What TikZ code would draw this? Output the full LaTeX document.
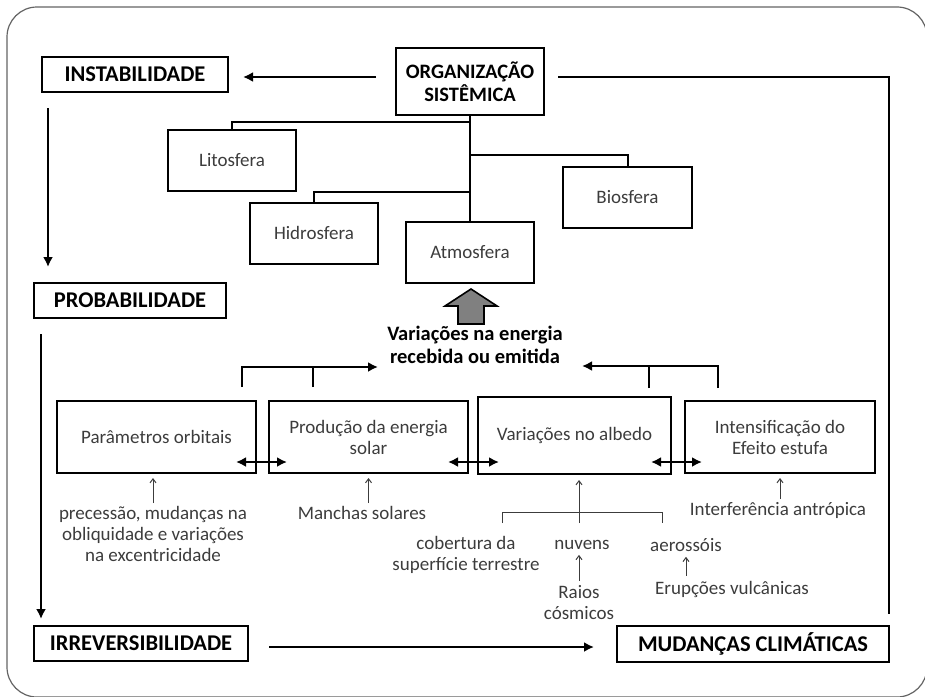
\documentclass[tikz,border=0pt]{standalone}
\usepackage{fontspec}
\setmainfont{Carlito}
\usetikzlibrary{arrows.meta,calc,positioning}
\definecolor{inkgray}{RGB}{60,60,60}
\definecolor{framegray}{RGB}{100,100,100}

\begin{document}
\begin{tikzpicture}[x=1pt, y=-1pt,
  sphere/.style={draw, line width=2pt, minimum width=128pt, minimum height=61pt, text=inkgray, font=\fontsize{19}{21}\selectfont},
  stage/.style={draw, line width=2pt, minimum height=35pt, font=\bfseries\fontsize{22.5}{24}\selectfont},
  factor/.style={draw, line width=2pt, minimum height=72pt, align=center, text=inkgray, font=\fontsize{19}{21}\selectfont},
  note/.style={align=center, inner sep=3pt, text=inkgray, font=\fontsize{19}{21}\selectfont},
  flow/.style={-{Latex[length=10pt,width=10pt]}, line width=2pt},
  both/.style={{Latex[length=10pt,width=10pt]}-{Latex[length=10pt,width=10pt]}, line width=2pt},
  link/.style={line width=2pt},
  cause/.style={-{Straight Barb[length=4pt,width=6pt]}, line width=1pt, inkgray},
  thinlink/.style={line width=1pt, inkgray}]

\useasboundingbox (0,0) rectangle (925,696);
\draw[framegray, line width=1.2pt, rounded corners=30pt] (7,7) rectangle (927,697);

% nivel de cima
\node[stage, minimum width=186pt] (inst) at (135,74.5) {INSTABILIDADE};
\node[stage, minimum width=148pt, minimum height=67pt, align=center, font=\bfseries\fontsize{20.5}{23}\selectfont] (org) at (470,81.5) {ORGANIZAÇÃO\\SISTÊMICA};

\node[sphere] (lito)  at (232,160.5) {Litosfera};
\node[sphere] (hidro) at (314,233)   {Hidrosfera};
\node[sphere] (atmo)  at (470,252.5) {Atmosfera};
\node[sphere, minimum width=129pt] (bio) at (627.5,197.5) {Biosfera};

\node[stage, minimum width=192pt] (prob)  at (130,300.5) {PROBABILIDADE};
\node[stage, minimum width=214pt] (irrev) at (141,643.5) {IRREVERSIBILIDADE};
\node[stage, minimum width=272pt, minimum height=36pt] (mud) at (753,644) {MUDANÇAS CLIMÁTICAS};

\node[align=center, font=\bfseries\fontsize{20.5}{23}\selectfont] (varia) at (475,345) {Variações na energia\\recebida ou emitida};

% fatores
\node[factor, minimum width=199pt] (param)  at (156.5,437) {Parâmetros orbitais};
\node[factor, minimum width=199pt] (prod)   at (368.5,437) {Produção da energia\\solar};
\node[factor, minimum width=193pt, minimum height=77pt] (albedo) at (574.5,435.5) {Variações no albedo};
\node[factor, minimum width=190pt] (intens) at (780,437) {Intensificação do\\Efeito estufa};

\node[note, anchor=north] (prec)    at (153,503) {precessão, mudanças na\\obliquidade e variações\\na excentricidade};
\node[note, anchor=north] (manchas) at (362,503) {Manchas solares};
\node[note, anchor=north] (interf)  at (778,499) {Interferência antrópica};
\node[note] (cobert) at (466,555) {cobertura da\\superfície terrestre};
\node[note] (nuvens) at (582,545) {nuvens};
\node[note] (aeross) at (686,545) {aerossóis};
\node[note] (raios)  at (579,603) {Raios\\cósmicos};
\node[note] (erup)   at (732,589) {Erupções vulcânicas};
\coordinate (fork) at (579,512);

% setas principais
\draw[flow, shorten <=19pt, shorten >=14pt] ([yshift=4.5pt]org.west) -- ([yshift=-2.5pt]inst.east);
\draw[link] ([xshift=13pt,yshift=4.5pt]org.east) -| ([xshift=-1pt,yshift=11pt]mud.north east);
\draw[flow] ($(inst.south west)+(7,15)$) -- ($(prob.north west)+(15,-15)$);
\draw[flow] ($(prob.south west)+(8,15)$) -- ($(irrev.north west)+(8,-6)$);
\draw[flow, shorten <=20pt, shorten >=22pt] ([yshift=-3.5pt]irrev.east) -- ([yshift=-3pt]mud.west);

% arvore do sistema
\draw[link] (org.south) -- (atmo.north);
\draw[link] (lito.north) |- ($(org.south)+(0,6)$);
\draw[link] (hidro.north) |- ($(org.south)+(0,76)$);
\draw[link] (bio.north) |- ($(org.south)+(0,39)$);

% seta cinza
\draw[line width=1.6pt, fill=gray] ($(atmo.south)+(-12,40)$) -- ++(0,-18) -- ++(-13,0) -- ++(26,-17)
  -- ++(26,17) -- ++(-13,0) -- ++(0,18) -- cycle;

% chaves para a energia
\draw[flow] ($(param.north east)+(-15,-13)$) |- ($(varia)+(-97,22)$);
\draw[link] ($(prod.north)+(-56,-13)$) -- ++(0,-21);
\draw[flow] ($(intens.north west)+(34,-12)$) |- ($(varia)+(107,21)$);
\draw[link] ($(albedo.north east)+(-23,-8)$) -- ++(0,-23);

\draw[both] ($(param.east)+(-21,25)$) -- ($(prod.west)+(19,25)$);
\draw[both] ($(prod.east)+(-21,25)$) -- ($(albedo.west)+(22,26.5)$);
\draw[both] ($(albedo.east)+(-21,26.5)$) -- ($(intens.west)+(18,25)$);

% causas
\draw[cause, shorten >=4pt] (prec.north) -- (prec.north |- param.south);
\draw[cause, shorten >=4pt] (prod.south |- manchas.north) -- (prod.south);
\draw[cause, shorten >=4pt] (interf.north -| intens.south) -- (intens.south);
\draw[thinlink] ($(fork)+(-77,11)$) -- ++(0,-11) -- ++(160,0) -- ++(0,11);
\draw[cause, shorten >=5pt] ($(fork)+(0,11)$) -- (fork |- albedo.south);
\draw[cause, shorten <=2pt, shorten >=2pt] (raios.north) -- (raios.north |- nuvens.south);
\draw[cause, shorten <=2pt, shorten >=2pt] (aeross.south |- erup.north) -- (aeross.south);

\end{tikzpicture}
\end{document}
